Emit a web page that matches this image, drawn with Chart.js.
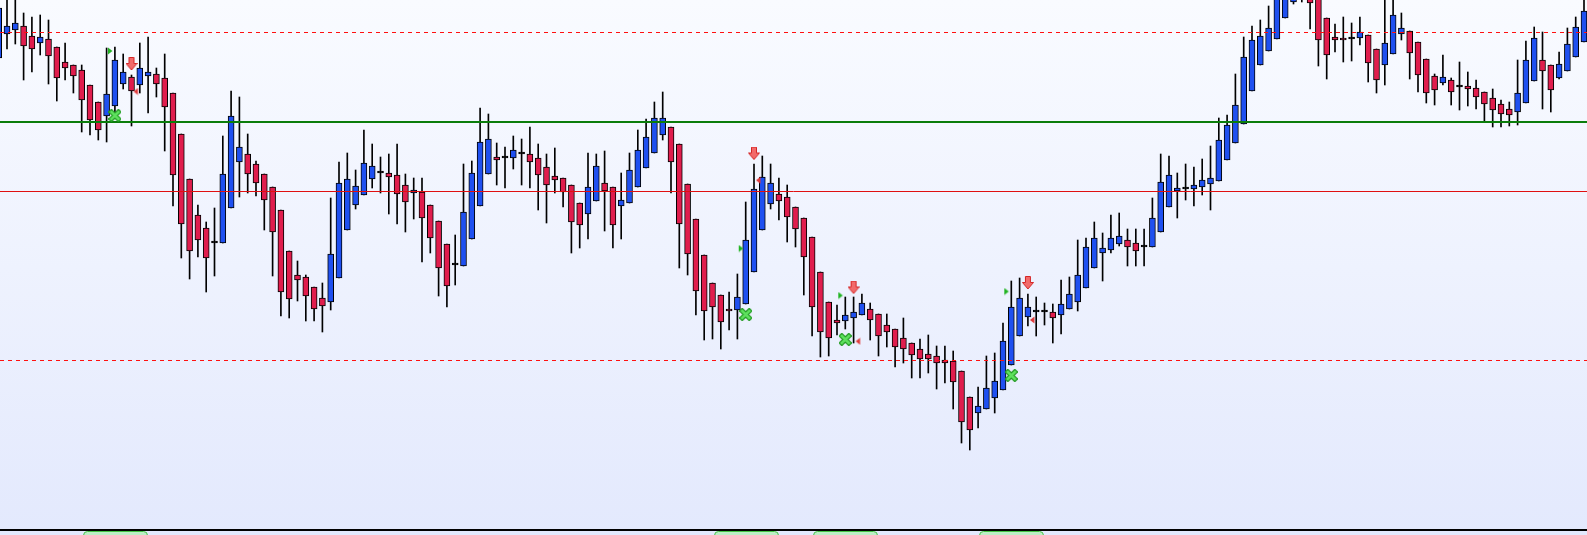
<!DOCTYPE html>
<html><head><meta charset="utf-8">
<script src="https://cdn.jsdelivr.net/npm/chart.js@4.4.0/dist/chart.umd.min.js"></script>
<style>html,body{margin:0;padding:0;overflow:hidden;background:#eef2fe}canvas{display:block}</style>
</head><body>
<canvas id="c" width="1587" height="535"></canvas>
<script>
// ---- data (price in points) ----
const opens = [472,496,500,504,494,487,491,483,468,465,460,445,428,414,424,446,453,445,454,456,
452,437,396,351,315,302,287,287,322,368,376,366,356,343,320,279,255,253,243,232,
228,252,300,325,335,351,357,357,355,345,337,338,325,309,286,265,264,291,324,356,
373,372,372,376,376,372,363,354,352,345,327,316,329,347,343,324,327,343,362,377,
395,403,386,346,311,275,247,235,221,220,226,258,300,326,336,333,323,312,293,258,
228,210,209,212,215,221,216,205,201,192,187,181,176,174,170,169,159,133,117,121,
132,140,165,194,213,218,218,218,215,221,228,242,262,277,280,286,290,287,283,283,
298,323,339,341,341,343,346,349,370,387,406,439,465,479,491,512,528,550,540,535,
512,493,492,491,492,495,481,465,476,496,499,488,471,454,447,450,443,444,442,438,
432,426,421,418,427,449,470,465,452,459,473,488];
const highs = [535,535,535,517,513,515,510,483,487,465,465,445,428,482,483,476,455,487,493,462,
476,437,396,351,325,308,322,394,439,433,396,369,356,343,320,279,269,255,243,247,
332,368,377,360,400,386,373,376,386,356,352,352,325,309,286,295,366,369,422,416,
387,383,394,391,403,386,376,382,352,345,327,377,376,379,343,357,377,400,411,428,
438,403,386,346,311,275,247,235,238,256,328,366,374,366,352,345,323,312,293,258,
228,225,233,233,236,227,216,216,201,212,187,191,195,184,184,179,159,133,143,174,
177,207,249,252,236,233,227,226,250,253,290,292,308,297,315,317,301,301,301,332,
376,374,357,366,363,371,384,412,415,456,493,504,510,524,555,560,565,560,550,545,
512,506,513,507,513,495,481,532,533,517,499,488,471,456,475,452,468,458,450,438,
441,430,428,470,489,503,498,465,478,502,513,535];
const lows = [468,481,486,450,458,475,446,429,450,437,398,395,390,388,418,441,404,437,417,433,
379,324,272,251,273,238,254,287,322,333,337,334,300,254,214,212,229,209,209,198,
220,252,300,321,335,342,337,316,306,298,311,268,277,234,223,245,264,291,324,356,
345,342,361,345,342,320,307,337,323,277,282,291,329,299,282,291,327,343,362,377,
390,337,262,255,215,190,191,181,200,191,226,258,300,321,310,288,283,235,194,173,
174,195,201,187,215,190,174,183,163,167,152,152,157,141,147,121,87,80,102,121,
117,140,165,194,204,194,205,187,196,221,219,242,262,249,277,284,264,264,264,283,
298,323,312,330,324,335,320,349,370,387,406,439,465,479,491,512,526,528,501,464,
451,478,468,469,485,448,437,445,476,490,451,438,427,425,445,425,420,424,421,409,
403,403,404,405,427,449,421,418,451,459,473,488];
const closes = [522,504,507,484,481,493,474,452,462,454,430,410,400,436,470,458,439,462,458,446,
423,355,306,279,290,272,287,356,414,383,356,347,330,298,238,231,250,234,221,224,
276,347,351,344,367,364,357,353,336,328,340,312,292,262,244,265,318,357,388,391,
370,372,380,376,368,355,345,350,338,308,305,343,364,339,305,330,360,380,393,412,
412,368,306,276,239,219,223,208,219,233,290,341,353,347,329,313,301,273,223,198,
192,207,215,218,227,210,194,198,183,181,175,171,171,167,167,148,108,100,124,142,
149,189,223,232,223,218,218,212,226,236,255,283,292,282,292,294,283,279,283,312,
348,355,342,341,345,350,352,390,405,425,473,490,494,502,545,550,555,538,527,490,
475,490,490,491,498,467,450,487,515,502,477,455,437,440,453,438,443,441,433,426,
420,416,415,437,470,492,459,440,466,486,503,519];

// horizontal levels
const resistanceDashed = 497.5;
const pivotGreen = 408;
const midRed = 338.5;
const supportDashed = 169.5;

// signals (candle index, price)
const buyBars = [14, 90, 102, 122];
const buyCrossPrice = [414.5, 215.5, 190.5, 154.5];
const buyTrianglePrice = [479, 281.5, 234.5, 238.5];
const sellBars = [16, 91, 103, 124];
const sellArrowPrice = [466, 376.5, 242.5, 247];
const sellTrianglePrice = [438.5, 349.7, 188.7, 210];

// ---- view settings ----
const STEP = 8.3;          // px per candle
const X_MIN = 1.3 / STEP;
const X_MAX = X_MIN + 1587 / STEP;
const Y_MIN = 0, Y_MAX = 530;
const BLUE = '#1f50f0', RED = '#e01d4d';

function mk(w, h, fn) { const c = document.createElement('canvas'); c.width = w; c.height = h; fn(c.getContext('2d')); return c; }
const crossImg = mk(13, 13, g => {
  g.lineCap = 'square';
  g.beginPath(); g.moveTo(3, 3); g.lineTo(10, 10); g.moveTo(10, 3); g.lineTo(3, 10);
  g.strokeStyle = '#229a22'; g.lineWidth = 5; g.stroke();
  g.strokeStyle = '#5ee05e'; g.lineWidth = 2.6; g.stroke();
});
const arrowImg = mk(12, 14, g => {
  g.beginPath();
  g.moveTo(3.5, 0.5); g.lineTo(8.5, 0.5); g.lineTo(8.5, 6.5); g.lineTo(11.5, 6.5);
  g.lineTo(6, 13); g.lineTo(0.5, 6.5); g.lineTo(3.5, 6.5); g.closePath();
  g.fillStyle = '#f26a6a'; g.fill(); g.strokeStyle = '#d42525'; g.lineWidth = 1; g.stroke();
});
const greenTri = mk(20, 8, g => {
  g.beginPath(); g.moveTo(3, 0.5); g.lineTo(7.5, 4); g.lineTo(3, 7.5); g.closePath();
  g.fillStyle = '#22b422'; g.fill();
});
const redTri = mk(20, 8, g => {
  g.beginPath(); g.moveTo(16.5, 0.5); g.lineTo(12, 4); g.lineTo(16.5, 7.5); g.closePath();
  g.fillStyle = '#e03a3a'; g.fill();
});

const idx = opens.map((_, i) => i);
const wickData = idx.map(i => ({x: i, y: [lows[i], highs[i]]}));
const bodyData = idx.map(i => ({x: i, y: [opens[i], closes[i]]}));
const bodyColor = c => {
  const i = c.dataIndex;
  return closes[i] > opens[i] ? BLUE : (closes[i] < opens[i] ? RED : '#000');
};
const hline = (v, color, w, dash) => ({
  type: 'line', data: [{x: X_MIN, y: v}, {x: X_MAX, y: v}], borderColor: color,
  borderWidth: w, borderDash: dash, pointRadius: 0, order: 1
});
const pts = (bars, prices, img) => ({
  type: 'line', showLine: false, data: bars.map((b, k) => ({x: b, y: prices[k]})),
  pointStyle: img, pointRadius: 5, order: 0
});

const bgPlugin = {
  id: 'bg',
  beforeDraw(chart) {
    const {ctx, width, height} = chart;
    const gr = ctx.createLinearGradient(0, 0, 0, height);
    gr.addColorStop(0, '#f9fbff'); gr.addColorStop(1, '#e3e9fd');
    ctx.save(); ctx.fillStyle = gr; ctx.fillRect(0, 0, width, height); ctx.restore();
  }
};
const tabPlugin = {
  id: 'tabs',
  afterDraw(chart) {
    const {ctx, chartArea} = chart; const xs = chart.scales.x;
    ctx.save();
    buyBars.forEach(b => {
      const x = xs.getPixelForValue(b);
      const y = chartArea.bottom + 1.5;
      ctx.beginPath(); ctx.roundRect(Math.round(x - 32) + 0.5, y, 64, 12, 4);
      ctx.fillStyle = '#bdeec6'; ctx.fill(); ctx.strokeStyle = '#45c445'; ctx.lineWidth = 1; ctx.stroke();
    });
    ctx.restore();
  }
};

new Chart(document.getElementById('c'), {
  type: 'bar',
  data: {
    datasets: [
      pts(buyBars, buyCrossPrice, crossImg),
      pts(sellBars, sellArrowPrice, arrowImg),
      pts(buyBars, buyTrianglePrice, greenTri),
      pts(sellBars, sellTrianglePrice, redTri),
      hline(resistanceDashed, '#ff1010', 1, [4, 4]),
      hline(pivotGreen, '#0b7d0b', 2, []),
      hline(midRed, '#e01010', 1, []),
      hline(supportDashed, '#ff1010', 1, [4, 4]),
      { type: 'bar', data: bodyData, backgroundColor: bodyColor, borderColor: '#000',
        borderWidth: 1, borderSkipped: false, barThickness: 6, minBarLength: 2, grouped: false, order: 2 },
      { type: 'bar', data: wickData, backgroundColor: '#000', borderWidth: 0,
        barThickness: 1, grouped: false, order: 3 }
    ]
  },
  options: {
    responsive: false, animation: false, events: [],
    layout: { autoPadding: false, padding: { top: 0, left: 0, right: 0, bottom: 5 } },
    plugins: { legend: { display: false }, tooltip: { enabled: false } },
    scales: {
      x: { type: 'linear', min: X_MIN, max: X_MAX, offset: false,
           grid: { display: false, drawTicks: false }, ticks: { display: false },
           border: { display: true, color: '#000', width: 2 } },
      y: { display: false, min: Y_MIN, max: Y_MAX }
    }
  },
  plugins: [bgPlugin, tabPlugin]
});
</script>
</body></html>
